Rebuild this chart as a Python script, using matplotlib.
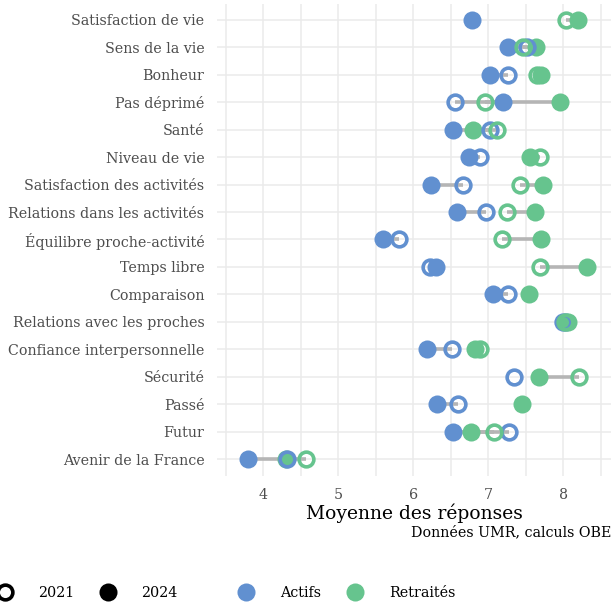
import matplotlib
matplotlib.use("Agg")
import matplotlib.pyplot as plt
from matplotlib.lines import Line2D
import numpy as np

plt.rcParams['font.family'] = ['DejaVu Serif']

categories = ["Satisfaction de vie", "Sens de la vie", "Bonheur", "Pas déprimé", "Santé",
              "Niveau de vie", "Satisfaction des activités", "Relations dans les activités",
              "Équilibre proche-activité", "Temps libre", "Comparaison",
              "Relations avec les proches", "Confiance interpersonnelle", "Sécurité",
              "Passé", "Futur", "Avenir de la France"]

actifs_2021 = [np.nan, 7.52, 7.26, 6.56, 7.02, 6.89, 6.66, 6.97, 5.81, 6.22, 7.27, 8.00, 6.52, 7.34, 6.60, 7.28, 4.32]
actifs_2024 = [6.79, 7.27, 7.02, 7.20, 6.53, 6.74, 6.24, 6.58, 5.59, 6.30, 7.06, 8.04, 6.18, np.nan, 6.32, 6.53, 3.80]
retraites_2021 = [8.04, 7.46, 7.65, 6.96, 7.12, 7.69, 7.42, 7.25, 7.19, 7.69, np.nan, 8.03, 6.89, 8.21, np.nan, 7.08, 4.57]
retraites_2024 = [8.20, 7.64, 7.71, 7.96, 6.80, 7.56, 7.73, 7.63, 7.70, 8.32, 7.54, 8.06, 6.82, 7.68, 7.45, 6.77, 4.30]

groups = ["Actifs", "Retraités"]
years = ["2021", "2024"]
colors = {"Actifs": "#6190d0", "Retraités": "#66c48e"}
xticks = [4, 5, 6, 7, 8]

W, H = 611, 603
fig = plt.figure(figsize=(W / 100, H / 100), dpi=100)
ax = fig.add_axes([217 / W, 127.5 / H, (611 - 217) / W, 472 / H])

y = np.arange(len(categories))
data = {("Actifs", "2021"): np.array(actifs_2021), ("Actifs", "2024"): np.array(actifs_2024),
        ("Retraités", "2021"): np.array(retraites_2021), ("Retraités", "2024"): np.array(retraites_2024)}

# grey segments
for g in groups:
    a = data[(g, "2021")]
    b = data[(g, "2024")]
    for i in range(len(categories)):
        if not (np.isnan(a[i]) or np.isnan(b[i])):
            ax.plot([a[i], b[i]], [y[i], y[i]], color="#b5b5b5", lw=2.6, zorder=2,
                    solid_capstyle="butt")

# filled 2024
for g in groups:
    ax.plot(data[(g, "2024")], y, ls="none", marker="o", ms=13, mfc=colors[g], mec="none", zorder=3)
# open 2021
for g in groups:
    ax.plot(data[(g, "2021")], y, ls="none", marker="o", ms=10.6, mfc="none", mec=colors[g],
            mew=2.6, zorder=4)

ax.set_xlim(3.383, 8.637)
ax.set_ylim(len(categories) - 1 + 0.6, -0.6)
ax.set_yticks(y)
ax.set_yticklabels(categories)
ax.set_xticks(xticks)
ax.set_xticks([3.5, 4.5, 5.5, 6.5, 7.5, 8.5], minor=True)
ax.grid(True, which="both", color="#ebebeb", lw=1.1, zorder=0)
ax.set_axisbelow(True)
for s in ax.spines.values():
    s.set_visible(False)
ax.tick_params(axis="both", which="both", length=0, colors="#4d4d4d", labelsize=10.3)
ax.tick_params(axis="y", pad=9)
ax.tick_params(axis="x", pad=9)
ax.set_xlabel("Moyenne des réponses", fontsize=13.5, color="black", labelpad=1)

fig.text(611 / W, 1 - 532 / H, "Données UMR, calculs OBE", ha="right", va="center",
         fontsize=10.3, color="black")

fs = 10.3
em = fs * 100 / 72
hl = 1.5
yleg = 1 - 593 / H
h_year = [Line2D([], [], ls="none", marker="o", ms=10.6, mfc="none", mec="black", mew=2.6),
          Line2D([], [], ls="none", marker="o", ms=13, mfc="black", mec="none")]
leg1 = fig.legend(h_year, years, loc="center left", bbox_to_anchor=((5 - hl * em / 2) / W, yleg),
                  ncol=2, frameon=False, fontsize=fs, handletextpad=(33 - hl * em / 2) / em,
                  columnspacing=(34 - hl * em / 2) / em, handlelength=hl,
                  borderpad=0, borderaxespad=0)
h_grp = [Line2D([], [], ls="none", marker="o", ms=13, mfc=colors[g], mec="none") for g in groups]
leg2 = fig.legend(h_grp, groups, loc="center left", bbox_to_anchor=((246 - hl * em / 2) / W, yleg),
                  ncol=2, frameon=False, fontsize=fs, handletextpad=(34 - hl * em / 2) / em,
                  columnspacing=(34 - hl * em / 2) / em, handlelength=hl,
                  borderpad=0, borderaxespad=0)

fig.savefig("out.png", dpi=100)
